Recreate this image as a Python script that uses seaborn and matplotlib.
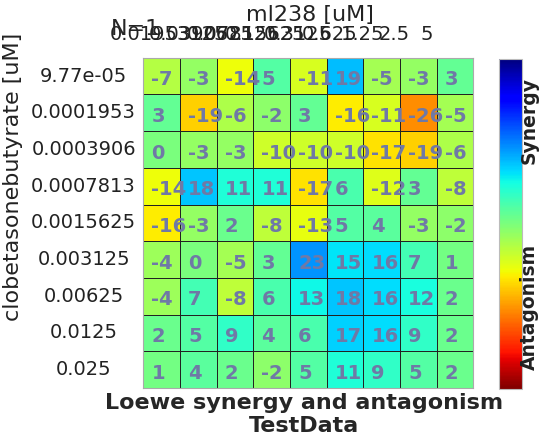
import numpy as np
import pandas as pd
import matplotlib
matplotlib.use("Agg")
import matplotlib.pyplot as plt
import seaborn as sns

# 濃度（x: ml238, y: clobetasonebutyrate）
x_labels = ["0.01953125", "0.0390625", "0.078125", "0.15625", "0.3125",
            "0.625", "1.25", "2.5", "5"]
y_labels = ["9.77e-05", "0.0001953", "0.0003906", "0.0007813", "0.0015625",
            "0.003125", "0.00625", "0.0125", "0.025"]

# Loewe 分數
row_0 = [-7, -3, -14, 5, -11, 19, -5, -3, 3]
row_1 = [3, -19, -6, -2, 3, -16, -11, -26, -5]
row_2 = [0, -3, -3, -10, -10, -10, -17, -19, -6]
row_3 = [-14, 18, 11, 11, -17, 6, -12, 3, -8]
row_4 = [-16, -3, 2, -8, -13, 5, 4, -3, -2]
row_5 = [-4, 0, -5, 3, 23, 15, 16, 7, 1]
row_6 = [-4, 7, -8, 6, 13, 18, 16, 12, 2]
row_7 = [2, 5, 9, 4, 6, 17, 16, 9, 2]
row_8 = [1, 4, 2, -2, 5, 11, 9, 5, 2]

scores = pd.DataFrame([row_0, row_1, row_2, row_3, row_4, row_5, row_6, row_7, row_8],
                      index=y_labels, columns=x_labels)

sns.set_style("white")
plt.rcParams['font.family'] = ['DejaVu Sans']

fig = plt.figure(figsize=(5.52, 4.37), dpi=100)
ax = fig.add_axes([0.2596, 0.112, 0.5978, 0.756])
cax = fig.add_axes([0.904, 0.110, 0.0417, 0.755])

sns.heatmap(scores, ax=ax, cbar_ax=cax, cmap="jet_r", vmin=-50, vmax=50,
            linewidths=0.5, linecolor="#222222")

# 數值標籤（靠左）
for i, row in enumerate(scores.values):
    for j, v in enumerate(row):
        ax.text(j + 0.22, i + 0.6, f"{v}", ha="left", va="center",
                fontsize=14, fontweight="bold", color="#6f79a6")

for side in ["left", "right", "top", "bottom"]:
    ax.spines[side].set_visible(True)
    ax.spines[side].set_color("#aaaaaa")
    ax.spines[side].set_linewidth(0.8)

# x 軸在上方
ax.xaxis.tick_top()
ax.xaxis.set_label_position("top")
ax.set_xticks(np.linspace(0.69, 7.73, 9))
ax.set_xticklabels(x_labels, rotation=0, fontsize=14, color="#222222")
ax.tick_params(axis="x", length=0, pad=10)
ax.set_xlabel("ml238 [uM]", fontsize=16, color="#222222")
ax.xaxis.set_label_coords(0.505, 1.111)

ax.set_yticks(np.arange(9) + 0.5)
ax.set_yticklabels(y_labels, rotation=0, fontsize=14, color="#222222", ha="center")
ax.tick_params(axis="y", length=0, pad=43)
ax.set_ylabel("clobetasonebutyrate [uM]", fontsize=16, color="#222222")
ax.yaxis.set_label_coords(-0.3645, 0.64)

# 色條
cax.tick_params(length=0, labelright=False, labelleft=False)
cax.set_yticks([])
cbar = ax.collections[0].colorbar
cbar.outline.set_visible(True)
cbar.outline.set_edgecolor("#bbbbbb")
cbar.outline.set_linewidth(0.8)
cax.text(1.3, 0.815, "Synergy", transform=cax.transAxes, rotation=90,
         ha="center", va="center", fontsize=13.5, fontweight="bold", color="#222222")
cax.text(1.3, 0.248, "Antagonism", transform=cax.transAxes, rotation=90,
         ha="center", va="center", fontsize=13.5, fontweight="bold", color="#222222")

fig.text(111 / 552, 1 - 35 / 437, "N=1", fontsize=16, va="baseline", ha="left")
fig.text(304 / 552, 0.0515, "Loewe synergy and antagonism\nTestData",
         fontsize=16, fontweight="bold", ha="center", va="center")

fig.savefig("out.png", dpi=100)
